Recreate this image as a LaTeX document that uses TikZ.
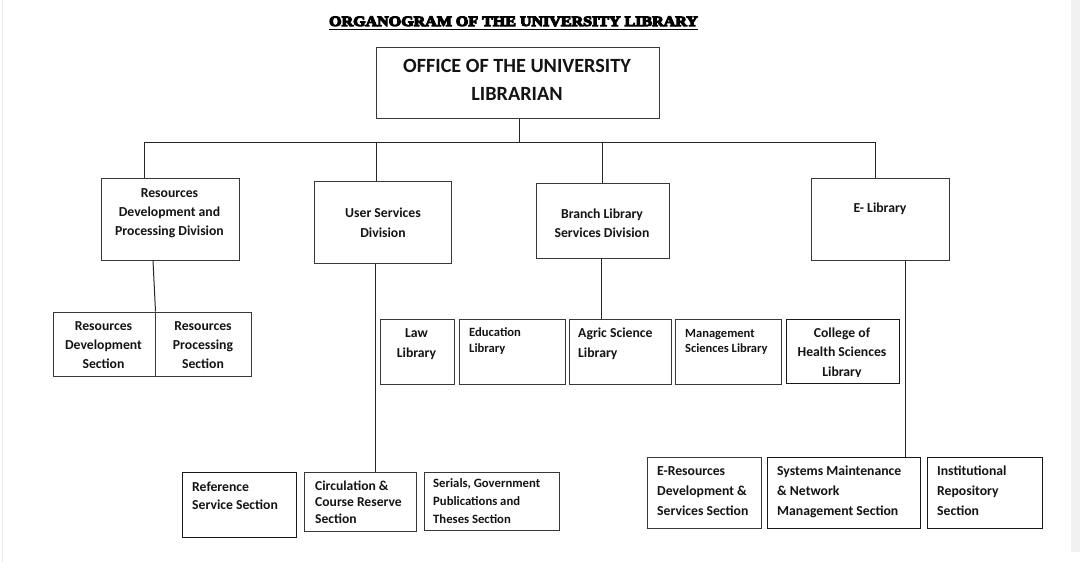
\documentclass[tikz,border=0pt]{standalone}
\usepackage{fontspec}
\setmainfont{Carlito}
\newfontfamily\titlefont{Liberation Serif}[FakeStretch=1.12]
\newcommand\heavytext[1]{\special{pdf:literal direct 2 Tr 1.1 w 0 0 0 RG}#1\special{pdf:literal direct 0 Tr}}
\begin{document}
\begin{tikzpicture}[x=1pt,y=-1pt,
  bx/.style={draw=black!78,line width=1pt,inner sep=0pt,fill=white},
  con/.style={draw=black!85,line width=1pt},
  tx/.style 2 args={font=\fontsize{#1}{#2}\selectfont\bfseries,inner sep=0pt,text=black!92},
]
\useasboundingbox (0,0) rectangle (1080,562);
\fill[white] (0,0) rectangle (1080,562);
\fill[black!6] (1071,0) rectangle (1080,552);
\fill[black!8] (1.5,0) rectangle (3,562);

% title
\node[font=\titlefont\bfseries\fontsize{14.3}{17}\selectfont,inner sep=0pt,anchor=base] (title) at (513.5,26) {\heavytext{ORGANOGRAM OF THE UNIVERSITY LIBRARY}};
\draw[line width=1.3pt] ([yshift=-3.2pt]title.base west) -- ([yshift=-3.2pt]title.base east);

% boxes
\node[bx,minimum width=283,minimum height=71] (top) at (517.5,82.5) {};
\node[bx,minimum width=138,minimum height=82] (rdpd) at (170,219) {};
\node[bx,minimum width=137,minimum height=82] (usd) at (382.5,222) {};
\node[bx,minimum width=133,minimum height=75] (bls) at (602.5,220.5) {};
\node[bx,minimum width=138,minimum height=82] (elib) at (880,219) {};
\node[bx,minimum width=102,minimum height=64] (rds) at (104,344) {};
\node[bx,minimum width=96,minimum height=64] (rps) at (203,344) {};
\node[bx,minimum width=74,minimum height=65] (law) at (417,351.5) {};
\node[bx,minimum width=106,minimum height=65] (edu) at (512,351.5) {};
\node[bx,minimum width=102,minimum height=65] (agric) at (620,351.5) {};
\node[bx,minimum width=106,minimum height=65] (mgmt) at (728,351.5) {};
\node[bx,minimum width=113,minimum height=64,draw=black!90] (chs) at (842.5,351) {};
\node[bx,minimum width=114,minimum height=65,draw=black!90] (ref) at (239,504.5) {};
\node[bx,minimum width=112,minimum height=59] (circ) at (360,501.5) {};
\node[bx,minimum width=135,minimum height=58] (ser) at (491.5,501) {};
\node[bx,minimum width=114,minimum height=71] (eres) at (704,492.5) {};
\node[bx,minimum width=153,minimum height=71,draw=black!90] (sys) at (843.5,492.5) {};
\node[bx,minimum width=115,minimum height=71,draw=black!90] (inst) at (984.5,492.5) {};

% connectors
\coordinate (j0) at (519,142);
\coordinate (busL) at (144,142);
\coordinate (busR) at (875,142);
\coordinate (uc) at (376,142);
\coordinate (uv) at (375.5,300);
\coordinate (ev) at (905.5,300);
\draw[con] (j0 |- top.south) -- (j0);
\draw[con] (busL) -- (busR);
\draw[con] (busL) -- (busL |- rdpd.north);
\draw[con] (uc) -- (uc |- usd.north);
\draw[con] (bls.north |- busL) -- (bls.north);
\draw[con] (busR) -- (busR |- elib.north);
\draw[con] ([xshift=-17pt]rdpd.south) -- (rds.north east);
\draw[con] (uv |- usd.south) -- (uv |- circ.north);
\draw[con] ([xshift=-1pt]bls.south) -- ([xshift=-1pt]bls.south |- agric.north);
\draw[con] (ev |- elib.south) -- (ev |- sys.north);

% texts
\node[tx={20.2}{28},anchor=north,align=center] (ttop) at (517,52.4) {\strut OFFICE OF THE UNIVERSITY\\LIBRARIAN};
\node[tx={13.7}{19},anchor=north,align=center] (trdpd) at (169.5,183.7) {\strut Resources\\Development and\\Processing Division};
\node[tx={13.7}{20},anchor=north,align=center] (tusd) at (383,203) {\strut User Services\\Division};
\node[tx={13.7}{19},anchor=north,align=center] (tbls) at (602,204.7) {\strut Branch Library\\Services Division};
\node[tx={13.7}{19.5},anchor=north,align=center] (telib) at (880,198.4) {\strut E- Library};
\node[tx={13.7}{19},anchor=north,align=center] (trds) at (103.5,316.7) {\strut Resources\\Development\\Section};
\node[tx={13.7}{19},anchor=north,align=center] (trps) at (203,316.7) {\strut Resources\\Processing\\Section};
\node[tx={13.7}{20},anchor=north,align=center] (tlaw) at (416.5,323) {\strut Law\\Library};
\node[tx={12.6}{16},anchor=north west,align=left] (tedu) at (469,324.8) {\strut Education\\Library};
\node[tx={13.7}{20},anchor=north west,align=left] (tagric) at (578,323) {\strut Agric Science\\Library};
\node[tx={12.5}{15},anchor=north west,align=left] (tmgmt) at (685,326.5) {\strut Management\\Sciences Library};
\begin{scope}
\clip (786,319) rectangle (899,376.5);
\node[tx={13.7}{19.5},anchor=north,align=center] (tchs) at (842,323.35) {\strut College of\\Health Sciences\\Library};
\end{scope}
\node[tx={13.7}{18},anchor=north west,align=left] (tref) at (192,478.4) {\strut Reference\\Service Section};
\node[tx={13.6}{16.5},anchor=north west,align=left] (tcirc) at (315,478.45) {\strut Circulation \&\\Course Reserve\\Section};
\node[tx={12.7}{18},anchor=north west,align=left] (tser) at (433,474.4) {\strut Serials, Government\\Publications and\\Theses Section};
\node[tx={13.7}{20},anchor=north west,align=left] (teres) at (657,461) {\strut E-Resources\\Development \&\\Services Section};
\node[tx={13.7}{20},anchor=north west,align=left] (tsys) at (777,461) {\strut Systems Maintenance\\\& Network\\Management Section};
\node[tx={13.7}{20},anchor=north west,align=left] (tinst) at (937,461) {\strut Institutional\\Repository\\Section};
\end{tikzpicture}
\end{document}
